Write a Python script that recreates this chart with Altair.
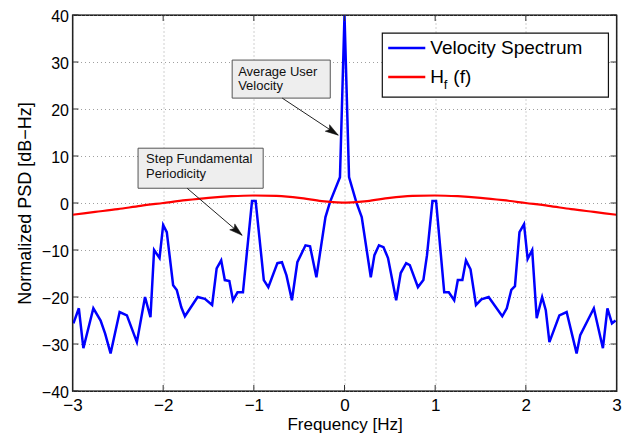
import altair as alt
import pandas as pd

# ---------------- data ----------------
freq = [-2.99, -2.93, -2.88, -2.77, -2.69, -2.64, -2.58, -2.48, -2.40, -2.29,
        -2.20, -2.14, -2.10, -2.04, -2.00, -1.96, -1.89, -1.85, -1.80, -1.76,
        -1.62, -1.54, -1.46, -1.41, -1.36, -1.32, -1.27, -1.23, -1.18, -1.12,
        -1.02, -0.98, -0.89, -0.84, -0.74, -0.69, -0.64, -0.58, -0.52, -0.43,
        -0.38, -0.31, -0.21, -0.16, -0.05, 0.00, 0.05, 0.13, 0.19, 0.29,
        0.33, 0.38, 0.43, 0.48, 0.57, 0.62, 0.68, 0.72, 0.81, 0.87,
        0.91, 0.97, 1.01, 1.10, 1.15, 1.21, 1.25, 1.30, 1.34, 1.39,
        1.45, 1.51, 1.59, 1.74, 1.79, 1.84, 1.88, 1.93, 1.98, 2.02,
        2.07, 2.12, 2.18, 2.22, 2.26, 2.37, 2.45, 2.56, 2.60, 2.75,
        2.85, 2.90, 2.95, 2.99]
psd = [-25.6, -22.4, -30.9, -22.4, -25.0, -27.8, -32.0, -23.2, -23.9, -29.6,
       -20.0, -24.3, -10.0, -11.7, -4.7, -6.2, -17.5, -18.5, -22.2, -24.1,
       -20.0, -20.4, -21.7, -13.9, -12.2, -16.4, -16.6, -20.7, -19.0, -19.0,
       0.4, 0.4, -16.4, -17.9, -12.8, -12.6, -15.4, -20.7, -12.6, -9.0,
       -9.2, -15.8, -3.0, 0.2, 5.5, 40.0, 5.5, 0.2, -3.0, -15.8,
       -11.1, -9.0, -9.4, -11.7, -20.7, -14.9, -12.8, -13.2, -17.9, -16.4,
       -11.1, 0.4, 0.4, -19.0, -19.0, -20.7, -16.4, -16.4, -12.2, -14.1,
       -21.7, -20.5, -20.0, -24.1, -22.4, -18.5, -17.7, -6.2, -4.5, -11.9,
       -10.0, -24.5, -20.0, -22.8, -29.6, -23.9, -23.2, -32.0, -28.1, -22.4,
       -30.9, -22.4, -25.6, -25.0]

hf_freq = [-3.0, -2.75, -2.5, -2.25, -2.0, -1.75, -1.5, -1.25, -1.0, -0.75,
           -0.5, -0.25, -0.125, 0.0, 0.125, 0.25, 0.5, 0.75, 1.0, 1.25,
           1.5, 1.75, 2.0, 2.25, 2.5, 2.75, 3.0]
hf_val = [-2.5, -1.9, -1.3, -0.6, 0.0, 0.6, 1.1, 1.45, 1.6, 1.5,
          1.1, 0.4, 0.2, 0.1, 0.2, 0.4, 1.1, 1.5, 1.6, 1.45,
          1.1, 0.6, 0.0, -0.6, -1.3, -1.9, -2.5]

x_ticks = [-3, -2, -1, 0, 1, 2, 3]
y_ticks = [-40, -30, -20, -10, 0, 10, 20, 30, 40]

series_names = ["Velocity Spectrum", "H"]
series_colors = ["#0000ff", "#ff0000"]

# annotation boxes (data coordinates)
ann_boxes = pd.DataFrame({
    "x1": [-1.239, -2.277], "x2": [-0.157, -0.897],
    "y1": [30.41, 11.66], "y2": [22.32, 3.14],
})
ann_text = pd.DataFrame({
    "x": [-1.173, -1.173, -2.188, -2.188],
    "y": [27.85, 24.87, 9.32, 6.12],
    "t": ["Average User", "Velocity", "Step Fundamental", "Periodicity"],
})
arrows = pd.DataFrame({
    "x1": [-0.687, -1.736], "y1": [22.32, 3.14],
    "x2": [-0.069, -1.129], "y2": [14.44, -6.87],
    "ang": [123.5, 130.5],
})

# legend (data coordinates)
leg_box = pd.DataFrame({"x1": [0.417], "x2": [2.911], "y1": [36.16], "y2": [22.53]})
leg_lines = pd.DataFrame({"x1": [0.482, 0.482], "x2": [0.891, 0.891], "y1": [32.97, 26.79],
                          "s": series_names})
leg_text = pd.DataFrame({"x": [0.946, 0.946, 1.20], "y": [32.97, 26.79, 26.79],
                         "t": ["Velocity Spectrum", "H", "(f)"]})
leg_sub = pd.DataFrame({"x": [1.095], "y": [25.1], "t": ["f"]})

# ---------------- chart ----------------
W, H = 544, 376
FONT = "Liberation Sans"
xs = alt.Scale(domain=[-3, 3], nice=False, zero=False)
ys = alt.Scale(domain=[-40, 40], nice=False, zero=False)
cs = alt.Scale(domain=series_names, range=series_colors)

AX_STYLE = dict(grid=True, domain=False, ticks=False, labelFlush=False,
                labelFont=FONT, titleFont=FONT,
                labelColor="#000000", titleColor="#000000", titleFontWeight="normal",
                gridColor="#a0a0a0", gridDash=[1, 3], gridWidth=1)
X_AX = alt.Axis(values=x_ticks, title="Frequency [Hz]", labelPadding=6, titlePadding=3,
                labelFontSize=17, titleFontSize=17, **AX_STYLE)
Y_AX = alt.Axis(values=y_ticks, title="Normalized PSD [dB\u2212Hz]", labelPadding=4,
                titlePadding=7, labelFontSize=16, labelOffset=1, titleFontSize=18,
                **AX_STYLE)


def X(field):
    return alt.X(field, scale=xs, axis=X_AX)


def Y(field):
    return alt.Y(field, scale=ys, axis=Y_AX)


spec_df = pd.DataFrame({"f": freq, "v": psd})
hf_df = pd.DataFrame({"f": hf_freq, "v": hf_val})

spec = alt.Chart(spec_df).mark_line(color="#0000ff", strokeWidth=2.5, clip=True).encode(
    x=X("f:Q"), y=Y("v:Q"), order="f:Q")
hf = alt.Chart(hf_df).mark_line(color="#ff0000", strokeWidth=2.2, interpolate="monotone").encode(
    x=X("f:Q"), y=Y("v:Q"))

xt = pd.DataFrame({"f": x_ticks})
yt = pd.DataFrame({"v": y_ticks})
tick_color = "#333333"
xtb = alt.Chart(xt).mark_rule(color=tick_color).encode(
    x=X("f:Q"), y=alt.value(H), y2=alt.value(H - 6))
xtt = alt.Chart(xt).mark_rule(color=tick_color).encode(
    x=X("f:Q"), y=alt.value(0), y2=alt.value(6))
ytl = alt.Chart(yt).mark_rule(color=tick_color).encode(
    y=Y("v:Q"), x=alt.value(0), x2=alt.value(6))
ytr = alt.Chart(yt).mark_rule(color=tick_color).encode(
    y=Y("v:Q"), x=alt.value(W), x2=alt.value(W - 6))

frame = alt.Chart(pd.DataFrame({"k": [0]})).mark_rect(
    fill=None, fillOpacity=0, stroke="#222222", strokeWidth=1.2).encode(
    x=alt.value(0), x2=alt.value(W), y=alt.value(0), y2=alt.value(H))

boxes = alt.Chart(ann_boxes).mark_rect(fill="#eeeeee", stroke="#555555", strokeWidth=1).encode(
    x=X("x1:Q"), x2="x2:Q", y=Y("y1:Q"), y2="y2:Q")
btext = alt.Chart(ann_text).mark_text(align="left", baseline="middle", font=FONT,
                                      fontSize=13, color="#111111").encode(
    x=X("x:Q"), y=Y("y:Q"), text="t:N")
arr_lines = alt.Chart(arrows).mark_rule(color="#222222", strokeWidth=1).encode(
    x=X("x1:Q"), x2="x2:Q", y=Y("y1:Q"), y2="y2:Q")
arr_heads = alt.Chart(arrows).mark_point(
    shape="M0,0L-0.3,1L0,0.8L0.3,1Z", filled=True, fill="#111111", stroke="#111111",
    strokeWidth=0.5, size=676, opacity=1).encode(
    x=X("x2:Q"), y=Y("y2:Q"), angle=alt.Angle("ang:Q", scale=None))

lbox = alt.Chart(leg_box).mark_rect(fill="white", stroke="#111111", strokeWidth=1.2).encode(
    x=X("x1:Q"), x2="x2:Q", y=Y("y1:Q"), y2="y2:Q")
llines = alt.Chart(leg_lines).mark_rule(strokeWidth=2.5).encode(
    x=X("x1:Q"), x2="x2:Q", y=Y("y1:Q"),
    color=alt.Color("s:N", scale=cs, legend=None))
ltext = alt.Chart(leg_text).mark_text(align="left", baseline="middle", font=FONT,
                                      fontSize=19, color="#000000").encode(
    x=X("x:Q"), y=Y("y:Q"), text="t:N")
lsub = alt.Chart(leg_sub).mark_text(align="left", baseline="middle", font=FONT,
                                    fontSize=13, color="#000000").encode(
    x=X("x:Q"), y=Y("y:Q"), text="t:N")

chart = alt.layer(
    spec, hf, xtb, xtt, ytl, ytr, frame, boxes, btext, arr_lines, arr_heads,
    lbox, llines, ltext, lsub
).properties(
    width=W, height=H,
    background="white",
    autosize=alt.AutoSizeParams(type="none"),
    padding={"left": 64.5, "top": 7, "right": 8, "bottom": 42},
).configure_view(
    stroke="#222222", strokeWidth=1.2
)

chart.save("out.html", embed_options={"renderer": "svg", "actions": False})
